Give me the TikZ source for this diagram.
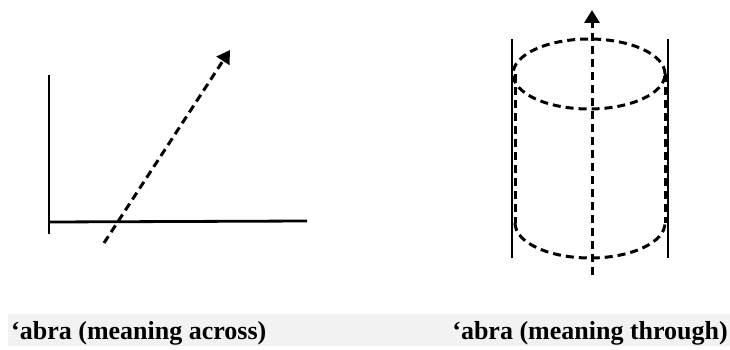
\documentclass[tikz,border=0pt]{standalone}
\usepackage{fontspec}
\setmainfont{Liberation Serif}
\usetikzlibrary{arrows.meta, positioning}
\tikzset{
    % Lines
    axis/.style        = {line width=2.8pt, line cap=butt},
    wall/.style        = {line width=2.8pt},
    dashline/.style    = {line width=3pt, dash pattern=on 8pt off 5pt},
    dasharrow/.style   = {dashline, -{Triangle[length=13pt, width=15pt]}},
    % Captions
    band/.style        = {fill=black!5, draw=none},
    caption/.style     = {font=\fontsize{26}{30}\selectfont\bfseries, inner sep=0pt}
}

\begin{document}
\begin{tikzpicture}[x=1pt, y=1pt]
    \useasboundingbox (0,0) rectangle (730,349);

    % Left picture: across
    \coordinate (origin) at (49,127);
    \coordinate (ytop) at (49,274);
    \coordinate (ybot) at (49,115);
    \coordinate (xend) at (307,128);
    \coordinate (crossfrom) at (104,106);
    \coordinate (crossto) at (230,299);

    \draw [axis] (ybot) -- (ytop);
    \draw [axis] (origin) -- (xend);
    \draw [dasharrow] (crossfrom) -- (crossto);

    % Right picture: through
    \coordinate (topc) at (589,275);
    \coordinate (botc) at (590,126);
    \coordinate (thrufrom) at (592,74);
    \coordinate (thruto) at (592,339);

    \draw [wall] (512,91) -- (512,310);
    \draw [wall] (668,91) -- (668,310);
    \draw [dashline] (topc) ellipse [x radius=76, y radius=35];
    \draw [dashline] ([xshift=-75pt]botc) arc [start angle=180, end angle=360, x radius=75, y radius=35];
    \draw [dashline] ([xshift=-74pt]topc) -- ([xshift=-75pt]botc);
    \draw [dashline] ([xshift=76pt]topc) -- ([xshift=75pt]botc);
    \draw [dasharrow] (thrufrom) -- (thruto);

    % Captions
    \fill [band] (8,3) rectangle (730,35);
    \node (across) [caption, anchor=base west] at (11,10) {‘abra (meaning across)};
    \node (through) [caption, anchor=base east] at (728,10) {‘abra (meaning through)};
\end{tikzpicture}
\end{document}
